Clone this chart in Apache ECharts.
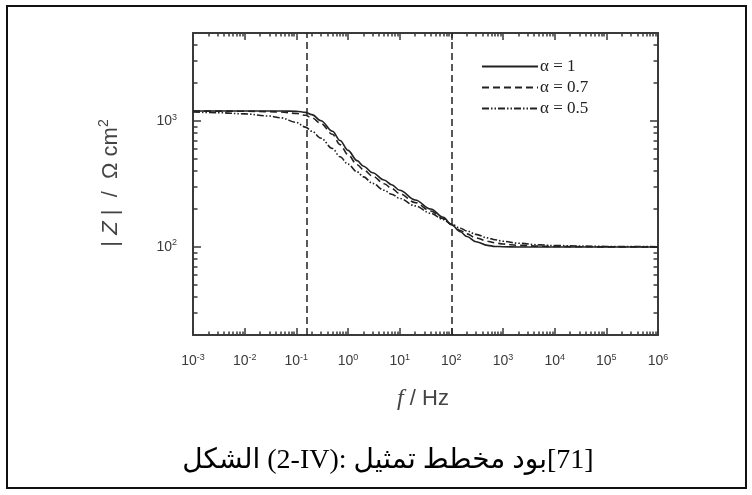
<!DOCTYPE html>
<html>
<head>
<meta charset="utf-8">
<script src="https://cdn.jsdelivr.net/npm/echarts@6/dist/echarts.min.js"></script>
<style>
  html, body { margin: 0; padding: 0; background: #fff; }
  #chart { width: 752px; height: 495px; }
</style>
</head>
<body>
<div id="chart"></div>
<script>
// Frequencies (Hz) shared by the three curves
const freqHz = [0.001, 0.003, 0.01, 0.03, 0.05, 0.1, 0.15, 0.2, 0.3, 0.5, 0.7, 1, 1.5, 2, 3, 5, 7, 10, 20, 40, 70, 100, 150, 200, 300, 500, 700, 1000, 2000, 5000, 1e4, 1e5, 1e6];

// |Z| (Ohm cm^2) for each CPE exponent
const zAlpha1 = [1200, 1200, 1200, 1200, 1200, 1195, 1172, 1125, 1005, 830, 700, 585, 485, 438, 388, 340, 312, 282, 236, 200, 172, 150, 132, 121, 110, 103, 101, 100.5, 100, 100, 100, 100, 100];
const zAlpha07 = [1200, 1199, 1196, 1188, 1178, 1150, 1110, 1060, 955, 785, 650, 540, 450, 410, 365, 318, 292, 265, 225, 193, 168, 151, 135, 127, 118, 111, 108, 105.5, 103, 101.5, 100.8, 100.2, 100];
const zAlpha05 = [1180, 1165, 1140, 1095, 1060, 975, 895, 830, 730, 605, 520, 455, 395, 360, 320, 282, 262, 243, 212, 185, 165, 152, 141, 134, 126, 118, 114, 111, 107, 104, 102.5, 101, 100.5];

const seriesNames = ['\u03b1 = 1', '\u03b1 = 0.7', '\u03b1 = 0.5'];

// Characteristic frequencies marked by vertical lines
const markFreqs = [0.16, 100];

// Axis ranges and decade ticks
const xRange = [0.001, 1e6];
const yRange = [20, 5000];
const xTickValues = [0.001, 0.01, 0.1, 1, 10, 100, 1000, 1e4, 1e5, 1e6];
const yTickValues = [100, 1000];

// Caption pieces in reading order; an LRM after each piece keeps them left to right
const captionParts = ['\u0627\u0644\u0634\u0643\u0644', ' (2-IV):', ' ', '\u062a\u0645\u062b\u064a\u0644', ' ', '\u0645\u062e\u0637\u0637', ' ', '\u0628\u0648\u062f', '[71]'];

// Minor ticks at 2..9 times each decade, inside the axis range
function minorTicks(range) {
  const out = [];
  for (let k = -4; k <= 7; k++) {
    for (let m = 2; m <= 9; m++) {
      const v = m * Math.pow(10, k);
      if (v >= range[0] && v <= range[1]) out.push(Number(v.toPrecision(3)));
    }
  }
  return out;
}
const xMinor = minorTicks(xRange);
const yMinor = minorTicks(yRange);

const ink = '#222';
const axisInk = '#3a3a3a';
const LRM = '\u200e';
const captionText = captionParts.map(p => p + LRM).join('');

function pow10Label(v) {
  const e = Math.round(Math.log10(v));
  return '10{sup|' + e + '}';
}
const labelRich = {
  sup: { fontSize: 9, color: axisInk, fontFamily: 'Liberation Sans', verticalAlign: 'top', padding: [0, 0, 8, 0] }
};

function pairs(vals) {
  return freqHz.map((f, i) => [f, vals[i]]);
}

function xAxisDef(pos, major, withLabels) {
  return {
    type: 'log', logBase: 10, min: xRange[0], max: xRange[1], position: pos,
    gridIndex: 0,
    axisLine: { show: major, lineStyle: { color: axisInk, width: 2 } },
    axisTick: { show: true, inside: true, length: major ? 7 : 3.5, customValues: major ? xTickValues : xMinor, lineStyle: { color: axisInk, width: 1.5 } },
    axisLabel: withLabels ? {
      show: true, customValues: xTickValues, formatter: pow10Label, rich: labelRich,
      color: axisInk, fontSize: 14, fontFamily: 'Liberation Sans', margin: 18
    } : { show: false },
    splitLine: { show: false }
  };
}
function yAxisDef(pos, major, withLabels) {
  return {
    type: 'log', logBase: 10, min: yRange[0], max: yRange[1], position: pos,
    gridIndex: 0,
    axisLine: { show: major, lineStyle: { color: axisInk, width: 2 } },
    axisTick: { show: true, inside: true, length: major ? 8 : 4.5, customValues: major ? yTickValues : yMinor, lineStyle: { color: axisInk, width: 1.5 } },
    axisLabel: withLabels ? {
      show: true, customValues: yTickValues, formatter: pow10Label, rich: labelRich,
      color: axisInk, fontSize: 14, fontFamily: 'Liberation Sans', margin: 16
    } : { show: false },
    splitLine: { show: false }
  };
}

const lineTypes = ['solid', [7, 4], [7, 2, 1.5, 2, 1.5, 2]];
const zSets = [zAlpha1, zAlpha07, zAlpha05];

const series = zSets.map((vals, i) => ({
  name: seriesNames[i],
  type: 'line',
  xAxisIndex: 0, yAxisIndex: 0,
  data: pairs(vals),
  smooth: 0.35,
  smoothMonotone: 'x',
  symbol: 'none',
  lineStyle: { color: ink, width: 1.6, type: lineTypes[i] },
  itemStyle: { color: ink },
  z: 3,
  markLine: i === 0 ? {
    silent: true, symbol: 'none', label: { show: false },
    lineStyle: { color: ink, width: 1.5, type: [7, 4] },
    data: markFreqs.map(f => ({ xAxis: f }))
  } : undefined
}));

const chart = echarts.init(document.getElementById('chart'), null, { renderer: 'canvas' });
chart.setOption({
  backgroundColor: '#fff',
  animation: false,
  grid: { left: 193, right: 94, top: 33, bottom: 160, containLabel: false },
  xAxis: [
    xAxisDef('bottom', true, true),
    xAxisDef('bottom', false, false),
    xAxisDef('top', true, false),
    xAxisDef('top', false, false)
  ],
  yAxis: [
    yAxisDef('left', true, true),
    yAxisDef('left', false, false),
    yAxisDef('right', true, false),
    yAxisDef('right', false, false)
  ],
  legend: {
    orient: 'vertical', left: 481, top: 58, padding: 0,
    itemWidth: 56, itemHeight: 14, itemGap: 4,
    itemStyle: { opacity: 0 },
    textStyle: { fontFamily: 'Liberation Serif', fontSize: 17, color: ink, padding: [0, 0, 0, -3] },
    data: seriesNames
  },
  graphic: [
    {
      type: 'rect', shape: { x: 7, y: 6, width: 739, height: 482 },
      style: { fill: 'none', stroke: '#111', lineWidth: 2 }, silent: true
    },
    {
      type: 'text', x: 111, y: 183, rotation: Math.PI / 2,
      style: {
        text: '| {i|Z} |  /  \u03a9 cm{sup|2}',
        fontFamily: 'Liberation Sans', fontSize: 22, fill: '#444',
        align: 'center', verticalAlign: 'middle',
        rich: {
          i: { fontStyle: 'italic', fontSize: 22, fontFamily: 'Liberation Sans', color: '#444' },
          sup: { fontSize: 14, fontFamily: 'Liberation Sans', color: '#444', verticalAlign: 'top', padding: [0, 0, 14, 0] }
        }
      }
    },
    {
      type: 'text', x: 423, y: 399,
      style: {
        text: '{f|f} / Hz',
        fontFamily: 'Liberation Sans', fontSize: 22, fill: '#444',
        align: 'center', verticalAlign: 'middle',
        rich: {
          f: { fontStyle: 'italic', fontFamily: 'Liberation Serif', fontSize: 24, color: '#444' }
        }
      }
    },
    {
      type: 'text', x: 388, y: 461,
      style: {
        text: captionText,
        fontFamily: '"Liberation Serif", "DejaVu Sans"', fontSize: 28, fill: '#000',
        align: 'center', verticalAlign: 'middle'
      }
    }
  ],
  series: series
});
</script>
</body>
</html>
